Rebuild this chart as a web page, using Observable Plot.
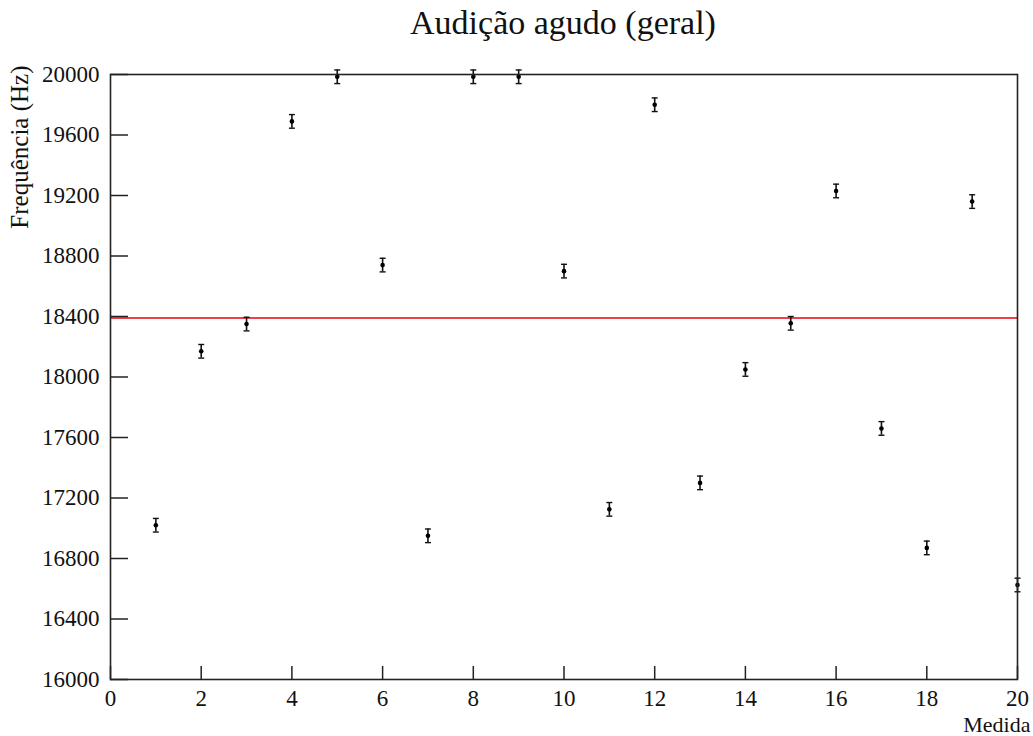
<!DOCTYPE html>
<html>
<head>
<meta charset="utf-8">
<script src="https://cdn.jsdelivr.net/npm/d3@7"></script>
<script src="https://cdn.jsdelivr.net/npm/@observablehq/plot@0.6"></script>
<style>
  html, body { margin: 0; padding: 0; background: white; }
</style>
</head>
<body>
<div id="chart"></div>
<script>
const title = "Audição agudo (geral)";
const yLabel = "Frequência (Hz)";
const xLabel = "Medida";
const medida = [1, 2, 3, 4, 5, 6, 7, 8, 9, 10, 11, 12, 13, 14, 15, 16, 17, 18, 19, 20];
const frequencia = [17020, 18170, 18350, 19690, 19985, 18740, 16950, 19985, 19985, 18700,
                    17125, 19800, 17300, 18050, 18355, 19230, 17660, 16870, 19160, 16625];
const erro = [45, 45, 45, 45, 45, 45, 45, 45, 45, 45, 45, 45, 45, 45, 45, 45, 45, 45, 45, 45];
const media = [18390];
const xTicks = [0, 2, 4, 6, 8, 10, 12, 14, 16, 18, 20];
const yTicks = [16000, 16400, 16800, 17200, 17600, 18000, 18400, 18800, 19200, 19600, 20000];

const data = medida.map((m, i) => ({x: m, y: frequencia[i], lo: frequencia[i] - erro[i], hi: frequencia[i] + erro[i]}));

const cap = {
  draw(context) {
    context.moveTo(-3, 0);
    context.lineTo(3, 0);
  }
};

const ink = "#222";
const chart = Plot.plot({
  width: 1033,
  height: 736,
  marginTop: 74,
  marginBottom: 57,
  marginLeft: 110,
  marginRight: 16,
  style: {fontFamily: "'Liberation Serif', 'Times New Roman', serif", fontSize: "23px", background: "white", color: "#111"},
  x: {domain: [0, 20]},
  y: {domain: [16000, 20000]},
  marks: [
    Plot.ruleY(media, {stroke: "#e8000b", strokeWidth: 1.5}),
    Plot.ruleX(data, {x: "x", y1: "lo", y2: "hi", stroke: "#111", strokeWidth: 1.6}),
    Plot.dot(data, {x: "x", y: "lo", symbol: cap, stroke: "#111", fill: "none", strokeWidth: 1.4}),
    Plot.dot(data, {x: "x", y: "hi", symbol: cap, stroke: "#111", fill: "none", strokeWidth: 1.4}),
    Plot.dot(data, {x: "x", y: "y", r: 2.3, fill: "#000", stroke: "none"}),
    Plot.axisY(yTicks, {anchor: "left", tickSize: 18, dx: 18, fill: "none", stroke: ink, strokeWidth: 1.5, label: null}),
    Plot.axisY(yTicks, {anchor: "left", tickSize: 0, tickPadding: 11, fontSize: 23, fill: "#111", label: null, tickFormat: d => String(d)}),
    Plot.axisX(xTicks, {anchor: "bottom", tickSize: 13, dy: -13, fill: "none", stroke: ink, strokeWidth: 1.5, label: null}),
    Plot.axisX(xTicks, {anchor: "bottom", tickSize: 0, tickPadding: 10, fontSize: 23, fill: "#111", label: null, tickFormat: d => String(d)}),
    Plot.frame({stroke: ink, strokeWidth: 1.6}),
    Plot.text([title], {frameAnchor: "top", dx: -1, dy: -41, lineAnchor: "bottom", fontSize: 34, fill: "#111"}),
    Plot.text([yLabel], {frameAnchor: "top-left", rotate: -90, textAnchor: "end", lineAnchor: "bottom", dx: -83, dy: -9, fontSize: 25, fill: "#111"}),
    Plot.text([xLabel], {frameAnchor: "bottom-right", textAnchor: "end", lineAnchor: "bottom", dx: 13, dy: 52, fontSize: 22, fill: "#111"})
  ]
});
document.getElementById("chart").appendChild(chart);
</script>
</body>
</html>
